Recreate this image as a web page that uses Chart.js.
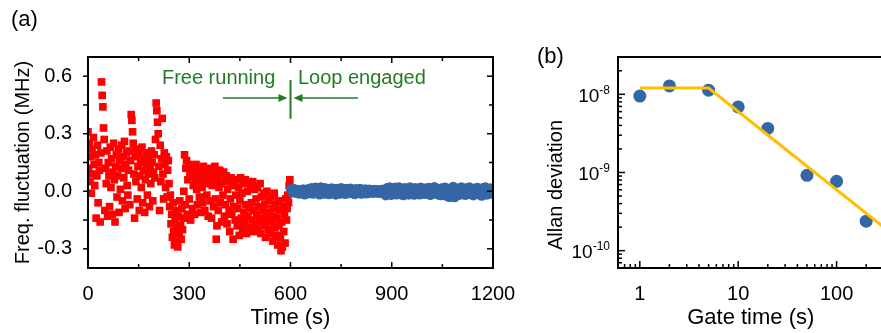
<!DOCTYPE html>
<html>
<head>
<meta charset="utf-8">
<script src="https://cdn.jsdelivr.net/npm/chart.js@4.4.0/dist/chart.umd.min.js"></script>
<style>
  html, body { margin: 0; padding: 0; background: #fff; overflow: hidden; }
  #wrap { position: relative; width: 881px; height: 333px; overflow: hidden; }
  #chartA { position: absolute; left: 0; top: 0; }
  #chartB { position: absolute; left: 530px; top: 0; }
</style>
</head>
<body>
<div id="wrap">
  <canvas id="chartA" width="540" height="333"></canvas>
  <canvas id="chartB" width="360" height="333"></canvas>
</div>
<script>
// (a) frequency fluctuation, MHz
const freeStart = 0, freeStep = 2;      // s
const freeRunning = [
  0.31, 0.12, 0.25, 0.05, 0.18, -0.01, 0.22, 0.09, 0.28, 0.14,
  0.03, 0.19, -0.14, 0.08, 0.24, -0.06, 0.15, 0.11, -0.16, 0.20,
  0.57, 0.50, 0.44, 0.33, 0.27, -0.10, 0.12, 0.04, 0.21, -0.13,
  0.15, 0.08, -0.08, 0.23, 0.02, 0.17, -0.12, 0.10, 0.25, 0.06,
  -0.16, 0.13, 0.19, -0.03, 0.08, 0.22, -0.11, 0.16, 0.01, 0.12,
  0.24, -0.05, 0.18, 0.07, 0.26, -0.09, 0.14, 0.20, 0.03, -0.02,
  0.11, 0.21, -0.07, 0.16, 0.40, 0.37, 0.31, 0.25, 0.09, -0.14,
  0.18, 0.05, 0.22, -0.04, 0.13, 0.19, -0.10, 0.08, 0.15, 0.02,
  0.23, -0.06, 0.11, 0.17, -0.11, 0.06, 0.20, 0.14, -0.02, 0.09,
  0.18, -0.08, 0.12, 0.04, 0.21, 0.15, -0.05, 0.10, 0.19, 0.07,
  0.27, 0.46, 0.42, 0.36, 0.30, 0.13, -0.10, 0.24, 0.05, 0.17,
  0.38, 0.09, -0.04, 0.20, 0.14, 0.02, 0.18, -0.03, 0.11, 0.16,
  0.04, -0.08, -0.02, -0.17, -0.12, -0.24, -0.06, -0.21, -0.28, -0.15,
  -0.26, -0.10, -0.19, -0.29, -0.13, -0.22, -0.05, -0.18, -0.25, -0.09,
  -0.20, -0.14, 0.00, 0.19, -0.07, 0.12, 0.16, -0.12, 0.06, 0.14,
  -0.04, 0.10, -0.15, 0.08, 0.13, -0.09, 0.03, 0.11, -0.12, 0.06,
  0.14, 0.01, -0.07, 0.09, 0.12, -0.03, 0.05, -0.11, 0.10, 0.02,
  -0.06, 0.13, 0.07, -0.10, 0.04, 0.11, -0.02, 0.08, -0.13, 0.06,
  0.12, -0.05, 0.09, -0.14, 0.03, 0.10, -0.08, 0.05, 0.13, -0.04,
  -0.25, -0.18, 0.07, -0.10, 0.02, 0.11, -0.06, 0.04, -0.16, 0.09,
  -0.02, 0.10, -0.13, 0.05, -0.07, 0.08, -0.17, 0.01, 0.06, -0.10,
  -0.21, -0.04, 0.07, -0.12, 0.03, -0.25, -0.08, 0.05, -0.15, -0.02,
  0.06, -0.18, -0.09, 0.02, -0.23, -0.05, 0.07, -0.14, -0.01, -0.20,
  0.04, -0.11, -0.17, 0.06, -0.07, -0.22, 0.00, -0.13, 0.05, -0.09,
  -0.19, 0.03, -0.06, -0.15, 0.05, -0.21, -0.10, 0.01, -0.17, -0.04,
  -0.12, 0.02, -0.20, -0.08, -0.14, 0.04, -0.22, -0.03, -0.16, -0.10,
  -0.01, -0.18, -0.07, -0.24, -0.12, 0.00, -0.15, -0.20, -0.05, -0.11,
  -0.22, -0.03, -0.16, -0.09, -0.26, -0.13, -0.01, -0.19, -0.07, -0.23,
  -0.14, -0.28, -0.05, -0.18, -0.10, -0.24, -0.31, -0.16, -0.29, -0.08,
  -0.21, -0.12, -0.27, -0.04, -0.15, -0.09, -0.02, -0.06, 0.03, 0.06
];
const loopStart = 602, loopStep = 4;    // s
const loopEngaged = [
  0.010, -0.005, 0.012, 0.000, -0.008, 0.006, -0.012, 0.004, -0.006, 0.009,
  -0.015, 0.003, -0.010, 0.011, -0.004, 0.015, -0.012, 0.007, 0.018, -0.006,
  0.012, -0.015, 0.020, 0.002, -0.011, 0.016, -0.008, 0.010, -0.014, 0.005,
  0.014, -0.010, 0.008, -0.016, 0.012, 0.001, -0.012, 0.016, -0.005, 0.009,
  -0.013, 0.011, 0.004, -0.009, 0.013, -0.006, 0.007, -0.014, 0.010, 0.000,
  -0.008, 0.012, -0.011, 0.006, -0.004, 0.009, -0.010, 0.003, 0.008, -0.006,
  0.004, -0.007, 0.006, -0.003, 0.005, -0.008, 0.002, 0.007, -0.005, 0.004,
  -0.020, 0.016, -0.012, 0.020, -0.018, 0.010, -0.006, 0.018, -0.015, 0.008,
  0.019, -0.014, 0.006, -0.019, 0.015, -0.008, 0.012, -0.016, 0.020, -0.004,
  0.010, -0.017, 0.016, -0.009, 0.003, -0.015, 0.018, -0.011, 0.007, -0.013,
  0.014, -0.006, 0.017, -0.018, 0.009, -0.012, 0.021, -0.007, 0.011, -0.016,
  0.006, -0.019, 0.015, -0.010, 0.018, -0.022, 0.012, -0.028, 0.008, -0.024,
  0.022, -0.030, 0.014, -0.020, 0.010, -0.016, 0.019, -0.012, 0.006, -0.018,
  0.016, -0.009, 0.020, -0.014, 0.008, -0.020, 0.013, -0.006, 0.017, -0.011,
  0.009, -0.022, 0.015, -0.008, 0.019, -0.016, 0.006, -0.012, 0.014, -0.004
];
const timeTicks = [0, 300, 600, 900, 1200];
const timeMinor = [150, 450, 750, 1050];
const freqTicks = [-0.3, 0, 0.3, 0.6];
const freqMinor = [-0.15, 0.15, 0.45];

// (b) Allan deviation
const gateTimes = [1, 2, 5, 10, 20, 50, 100, 200];
const allanDev = [9.5e-9, 1.28e-8, 1.13e-8, 6.9e-9, 3.66e-9, 9.2e-10, 7.7e-10, 2.38e-10];
const fitTimes = [1, 5, 300];
const fitDev = [1.2e-8, 1.2e-8, 2.0e-10];
const gateTicks = [1, 10, 100];
const allanTicks = [1e-8, 1e-9, 1e-10];
const allanExp = ['-8', '-9', '-10'];

const FONT = '"Liberation Sans", Arial, Helvetica, sans-serif';
const RED = '#ff0000';
const BLUE = '#3567a6';
const ORANGE = '#ffbf00';
const GREEN = '#237b23';

function line(ctx, x1, y1, x2, y2) {
  ctx.beginPath(); ctx.moveTo(x1, y1); ctx.lineTo(x2, y2); ctx.stroke();
}

// len > 0 points into the plot, len < 0 points out
function drawTicks(chart, axisId, values, side, len) {
  const { ctx, chartArea: a } = chart;
  const s = chart.scales[axisId];
  values.forEach(v => {
    const p = s.getPixelForValue(v);
    if (side === 'left') line(ctx, a.left, p, a.left + len, p);
    if (side === 'right') line(ctx, a.right, p, a.right - len, p);
    if (side === 'bottom') line(ctx, p, a.bottom, p, a.bottom - len);
    if (side === 'top') line(ctx, p, a.top, p, a.top + len);
  });
}

function arrow(ctx, xFrom, xTo, y) {
  const d = Math.sign(xTo - xFrom);
  line(ctx, xFrom, y, xTo - d * 7, y);
  ctx.beginPath();
  ctx.moveTo(xTo, y);
  ctx.lineTo(xTo - d * 9, y - 4);
  ctx.lineTo(xTo - d * 9, y + 4);
  ctx.closePath();
  ctx.fill();
}

function logMinor(lo, hi) {
  const out = [];
  for (let e = Math.floor(Math.log10(lo)); e <= Math.ceil(Math.log10(hi)); e++) {
    for (let m = 2; m <= 9; m++) {
      const v = m * Math.pow(10, e);
      if (v >= lo * 0.999 && v <= hi * 1.001) out.push(v);
    }
  }
  return out;
}

const framePluginA = {
  id: 'frameA',
  afterDatasetsDraw(chart) {
    const { ctx, chartArea: a } = chart;
    const xs = chart.scales.x, ys = chart.scales.y;
    ctx.save();
    ctx.strokeStyle = '#000';
    ctx.lineWidth = 2;
    ctx.strokeRect(a.left, a.top, a.right - a.left, a.bottom - a.top);
    ctx.lineWidth = 1.5;
    drawTicks(chart, 'y', freqTicks, 'left', -5);
    drawTicks(chart, 'y', freqMinor, 'left', -5);
    drawTicks(chart, 'y', freqTicks, 'right', 6);
    drawTicks(chart, 'y', freqMinor, 'right', 4);
    drawTicks(chart, 'x', timeTicks, 'bottom', 6);
    drawTicks(chart, 'x', timeMinor, 'bottom', 4);
    drawTicks(chart, 'x', timeTicks, 'top', 6);
    drawTicks(chart, 'x', timeMinor, 'top', 4);

    // switch-over annotation
    ctx.strokeStyle = GREEN;
    ctx.fillStyle = GREEN;
    ctx.lineWidth = 2;
    const xSwitch = xs.getPixelForValue(600);
    line(ctx, xSwitch, ys.getPixelForValue(0.58), xSwitch, ys.getPixelForValue(0.378));
    const yArrow = ys.getPixelForValue(0.486);
    ctx.lineWidth = 1.6;
    arrow(ctx, xs.getPixelForValue(400), xSwitch - 3, yArrow);
    arrow(ctx, xs.getPixelForValue(800), xSwitch + 3, yArrow);
    ctx.font = '20px ' + FONT;
    ctx.textBaseline = 'alphabetic';
    ctx.textAlign = 'right';
    ctx.fillText('Free running', xs.getPixelForValue(555), ys.getPixelForValue(0.56));
    ctx.textAlign = 'left';
    ctx.fillText('Loop engaged', xs.getPixelForValue(622), ys.getPixelForValue(0.56));

    ctx.fillStyle = '#000';
    ctx.font = '22px ' + FONT;
    ctx.textBaseline = 'middle';
    ctx.fillText('(a)', 11, 20);
    ctx.restore();
  }
};

const framePluginB = {
  id: 'frameB',
  afterDatasetsDraw(chart) {
    const { ctx, chartArea: a } = chart;
    const ys = chart.scales.y;
    ctx.save();
    ctx.strokeStyle = '#000';
    ctx.lineWidth = 2;
    ctx.strokeRect(a.left, a.top, a.right - a.left, a.bottom - a.top);
    ctx.lineWidth = 1.5;
    drawTicks(chart, 'y', allanTicks, 'left', 7);
    drawTicks(chart, 'y', logMinor(ys.min, ys.max), 'left', 4);
    drawTicks(chart, 'x', gateTicks, 'bottom', 7);
    drawTicks(chart, 'x', logMinor(chart.scales.x.min, chart.scales.x.max), 'bottom', 4);

    // y tick labels with superscript exponents
    ctx.fillStyle = '#000';
    const xEnd = a.left - 8;
    allanTicks.forEach((v, i) => {
      const p = ys.getPixelForValue(v);
      ctx.font = '12px ' + FONT;
      const supW = ctx.measureText(allanExp[i]).width;
      ctx.textAlign = 'left';
      ctx.textBaseline = 'middle';
      ctx.fillText(allanExp[i], xEnd - supW, p - 4);
      ctx.font = '19px ' + FONT;
      ctx.textAlign = 'right';
      ctx.fillText('10', xEnd - supW, p + 2);
    });

    // y title
    ctx.save();
    ctx.translate(26, 185);
    ctx.rotate(-Math.PI / 2);
    ctx.font = '20px ' + FONT;
    ctx.textAlign = 'center';
    ctx.textBaseline = 'middle';
    ctx.fillText('Allan deviation', 0, 0);
    ctx.restore();

    ctx.font = '22px ' + FONT;
    ctx.textAlign = 'left';
    ctx.textBaseline = 'middle';
    ctx.fillText('(b)', 7, 57);
    ctx.restore();
  }
};

new Chart(document.getElementById('chartA'), {
  type: 'scatter',
  data: {
    datasets: [
      {
        data: loopEngaged.map((v, i) => ({ x: loopStart + i * loopStep, y: v })),
        pointStyle: 'circle', pointRadius: 5.3, backgroundColor: BLUE, borderWidth: 0
      },
      {
        data: freeRunning.map((v, i) => ({ x: freeStart + i * freeStep, y: v })),
        pointStyle: 'rect', pointRadius: 5.4, backgroundColor: RED, borderWidth: 0
      }
    ]
  },
  options: {
    responsive: false,
    animation: false,
    events: [],
    layout: { padding: { top: 57, right: 47, bottom: 0, left: 0 } },
    plugins: { legend: { display: false }, tooltip: { enabled: false } },
    scales: {
      x: {
        type: 'linear', min: 0, max: 1200,
        grid: { display: false }, border: { display: false },
        afterBuildTicks: s => { s.ticks = timeTicks.map(v => ({ value: v })); },
        afterFit: s => { s.height = 65; s.paddingLeft = 0; s.paddingRight = 0; },
        ticks: { color: '#000', font: { family: FONT, size: 20 }, padding: 6, maxRotation: 0, autoSkip: false, callback: v => String(v) },
        title: { display: true, text: 'Time (s)', color: '#000', font: { family: FONT, size: 22 }, padding: { top: 0, bottom: 2 } }
      },
      y: {
        type: 'linear', min: -0.4, max: 0.7,
        grid: { display: false }, border: { display: false },
        afterBuildTicks: s => { s.ticks = freqTicks.map(v => ({ value: v })); },
        afterFit: s => { s.width = 88; },
        ticks: { color: '#000', font: { family: FONT, size: 20 }, padding: 8, callback: v => v.toFixed(1) },
        title: { display: true, text: 'Freq. fluctuation (MHz)', color: '#000', font: { family: FONT, size: 20 }, padding: { top: 11, bottom: 0 } }
      }
    }
  },
  plugins: [framePluginA]
});

new Chart(document.getElementById('chartB'), {
  type: 'scatter',
  data: {
    datasets: [
      {
        data: fitTimes.map((x, i) => ({ x: x, y: fitDev[i] })),
        showLine: true, borderColor: ORANGE, borderWidth: 3, pointRadius: 0, tension: 0
      },
      {
        data: gateTimes.map((x, i) => ({ x: x, y: allanDev[i] })),
        pointStyle: 'circle', pointRadius: 6.5, backgroundColor: BLUE, borderWidth: 0
      }
    ]
  },
  options: {
    responsive: false,
    animation: false,
    events: [],
    layout: { padding: { top: 57, right: 2, bottom: 0, left: 0 } },
    plugins: { legend: { display: false }, tooltip: { enabled: false } },
    scales: {
      x: {
        type: 'logarithmic', min: 0.6, max: 300,
        grid: { display: false }, border: { display: false },
        afterBuildTicks: s => { s.ticks = gateTicks.map(v => ({ value: v })); },
        afterFit: s => { s.height = 65; s.paddingLeft = 0; s.paddingRight = 0; },
        ticks: { color: '#000', font: { family: FONT, size: 20 }, padding: 6, maxRotation: 0, autoSkip: false, callback: v => String(v) },
        title: { display: true, text: 'Gate time (s)', color: '#000', font: { family: FONT, size: 22 }, padding: { top: 0, bottom: 2 } }
      },
      y: {
        type: 'logarithmic', min: 6e-11, max: 3e-8,
        grid: { display: false }, border: { display: false },
        afterFit: s => { s.width = 88; },
        ticks: { display: false }
      }
    }
  },
  plugins: [framePluginB]
});
</script>
</body>
</html>
